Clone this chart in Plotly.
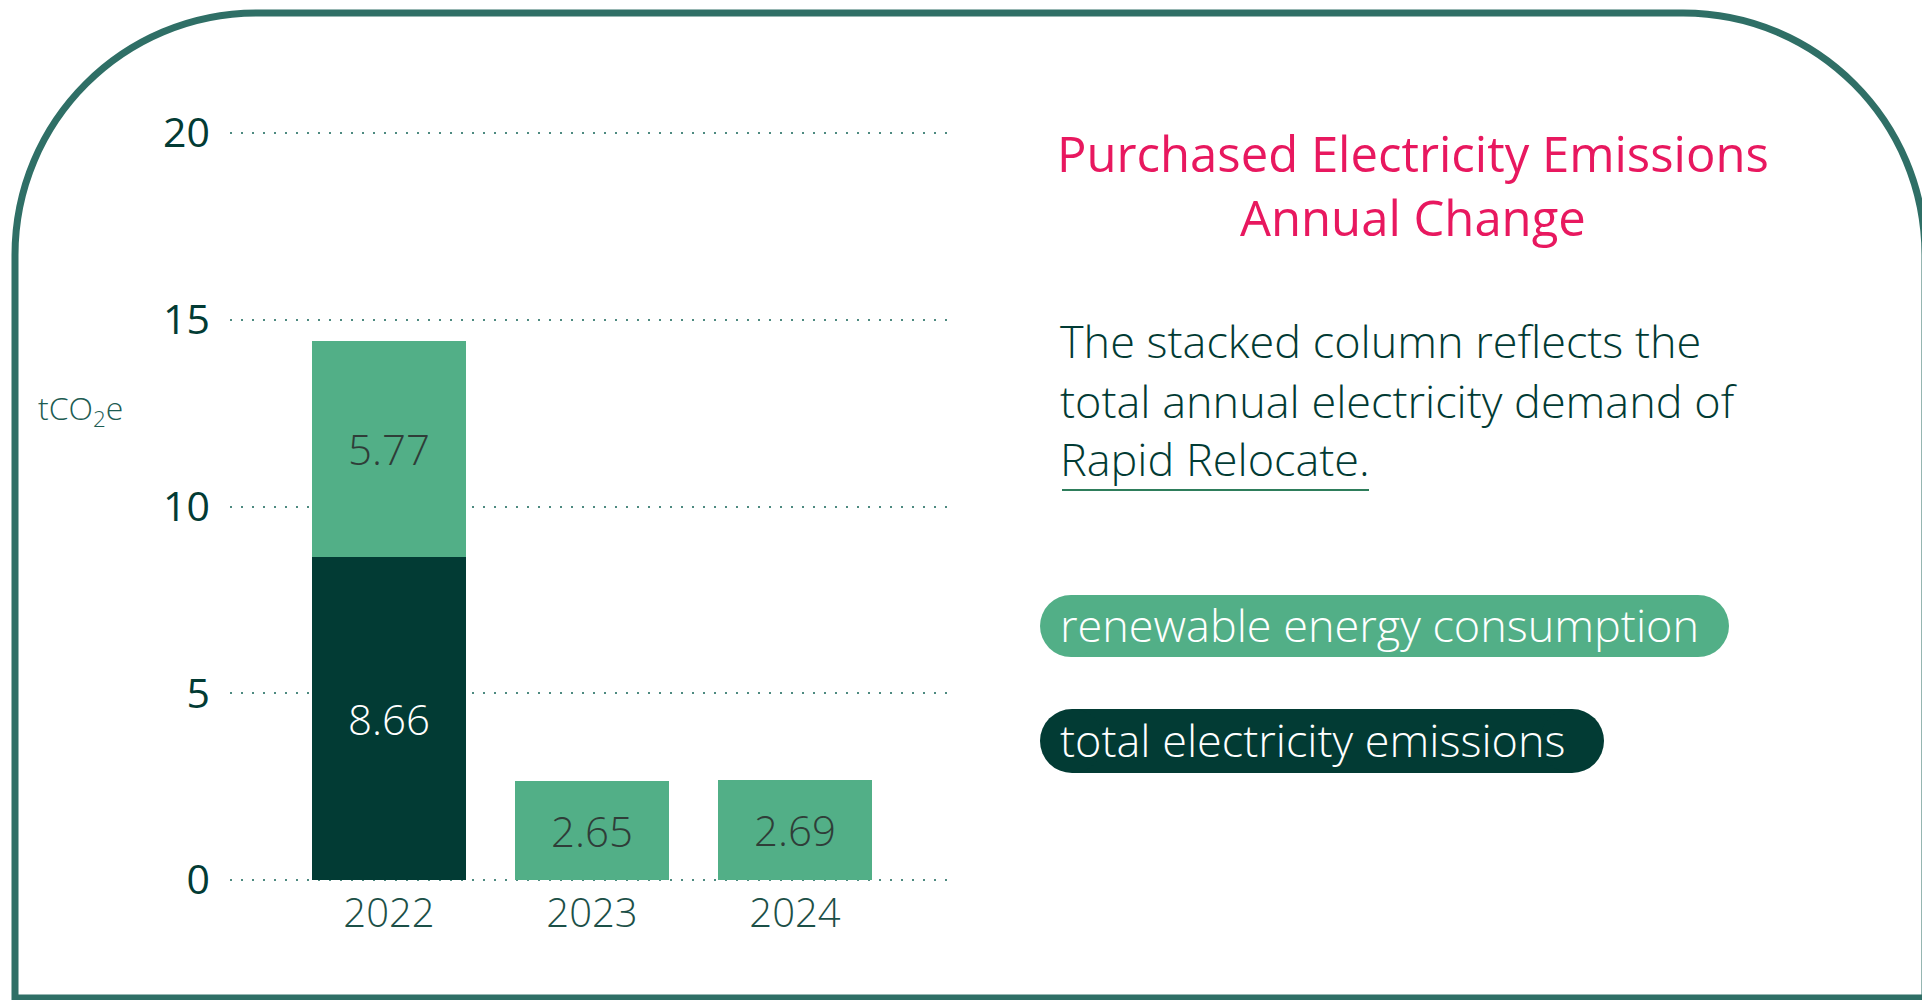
import plotly.graph_objects as go

# values
years = ["2022", "2023", "2024"]
emissions = [8.66, None, None]
renewable = [5.77, 2.65, 2.69]
y_ticks = [0, 5, 10, 15, 20]

series_names = ["total electricity emissions", "renewable energy consumption"]
title_lines = ["Purchased Electricity Emissions", "Annual Change"]
note_lines = ["The stacked column reflects the", "total annual electricity demand of", "Rapid Relocate."]
unit_label = "tCO<sub>2</sub>e"

# the page body adds an 8px margin, so the figure is drawn 8px smaller
# and every reference pixel position is shifted back by that much
OFF = 8
W, H = 1930 - OFF, 1000 - OFF
DARK = "#023b34"
LIGHT = "#52af87"
BORDER = "#2f6f66"
PINK = "#e8185f"
FONT = "Open Sans"


def px(x):
    return (x - OFF) / W


def py(y):
    return 1 - (y - OFF) / H


def present(cats, vals):
    """Drop empty segments so no blank labels are drawn."""
    pairs = [(c, v) for c, v in zip(cats, vals) if v is not None]
    return [c for c, _ in pairs], [v for _, v in pairs]


def add_pill(fig, x0, y0, x1, y1, color):
    """Rounded legend pill: a rect with a circle at each end."""
    r = (y1 - y0) / 2
    fig.add_shape(type="rect", xref="paper", yref="paper", layer="below",
                  x0=px(x0 + r), x1=px(x1 - r), y0=py(y1), y1=py(y0),
                  fillcolor=color, line_width=0)
    for cx in (x0 + r, x1 - r):
        fig.add_shape(type="circle", xref="paper", yref="paper", layer="below",
                      x0=px(cx - r), x1=px(cx + r), y0=py(y1), y1=py(y0),
                      fillcolor=color, line_width=0)


def border_path(left, top, right, bottom, r):
    k = 0.5523 * r
    pts = [
        f"M {px(left)},{py(bottom)}",
        f"L {px(left)},{py(top + r)}",
        f"C {px(left)},{py(top + r - k)} {px(left + r - k)},{py(top)} {px(left + r)},{py(top)}",
        f"L {px(right - r)},{py(top)}",
        f"C {px(right - r + k)},{py(top)} {px(right)},{py(top + r - k)} {px(right)},{py(top + r)}",
        f"L {px(right)},{py(bottom)}",
        "Z",
    ]
    return " ".join(pts)


fig = go.Figure()

for (name, vals, color, txt) in [
    (series_names[0], emissions, DARK, "white"),
    (series_names[1], renewable, LIGHT, "#2f3d38"),
]:
    xs, ys = present(years, vals)
    fig.add_trace(go.Bar(
        x=xs, y=ys, name=name,
        marker=dict(color=color, line_width=0),
        texttemplate="%{y:.2f}", textposition="inside", insidetextanchor="middle",
        textfont=dict(family=FONT, size=42, color=txt, weight=300),
        hoverinfo="skip",
    ))

fig.update_layout(
    width=W, height=H, autosize=False,
    margin=dict(l=0, r=0, t=0, b=0, autoexpand=False),
    paper_bgcolor="white", plot_bgcolor="white",
    barmode="stack", bargap=0.241,
    showlegend=False,
    font=dict(family=FONT, color=DARK),
    xaxis=dict(
        domain=[px(230), px(954)],
        range=[-0.783, 2.783],
        categoryorder="array", categoryarray=years,
        showgrid=False, zeroline=False, showline=False, automargin=False,
        tickfont=dict(size=40, color="#1c5048", weight=300),
        ticklabelstandoff=-2,
    ),
    yaxis=dict(
        domain=[py(887.5), py(125.5)],
        range=[-0.2, 20.2],
        tickvals=y_ticks,
        showgrid=True, gridcolor="#4d8a80", gridwidth=2, griddash="2px,9px",
        zeroline=False, showline=False, automargin=False,
        tickfont=dict(size=41, color=DARK, weight=400),
        ticklabelstandoff=19,
    ),
)

# outer rounded frame
fig.add_shape(type="path", xref="paper", yref="paper", layer="below",
              path=border_path(15, 13, 1925, 998, 242),
              line=dict(color=BORDER, width=7))

# unit label
fig.add_annotation(xref="paper", yref="paper", x=px(80), y=py(410),
                   xanchor="center", yanchor="middle",
                   text=unit_label, showarrow=False,
                   font=dict(size=32, color="#1d5c52", weight=300))

# title
fig.add_annotation(xref="paper", yref="paper", x=px(1413), y=py(185),
                   text="<br>".join(title_lines), showarrow=False,
                   xanchor="center", yanchor="middle", align="center",
                   font=dict(size=49, color=PINK, weight=400))

# note text
for line, yc in zip(note_lines, [340, 400, 458]):
    fig.add_annotation(xref="paper", yref="paper", x=px(1058), y=py(yc),
                       text=line, showarrow=False, xanchor="left", yanchor="middle",
                       font=dict(size=45, color=DARK, weight=300))
fig.add_shape(type="line", xref="paper", yref="paper",
              x0=px(1062), x1=px(1369), y0=py(490), y1=py(490),
              line=dict(color="#2e7d5b", width=2))

# legend pills
pills = [
    (series_names[1], LIGHT, 595, 657, 1729),
    (series_names[0], DARK, 709, 773, 1604),
]
for label, color, y0, y1, x1 in pills:
    add_pill(fig, 1040, y0, x1, y1, color)
    fig.add_annotation(xref="paper", yref="paper", x=px(1058), y=py((y0 + y1) / 2 - 2),
                       text=label, showarrow=False, xanchor="left", yanchor="middle",
                       font=dict(size=45, color="white", weight=300))

fig.write_html("out.html")
